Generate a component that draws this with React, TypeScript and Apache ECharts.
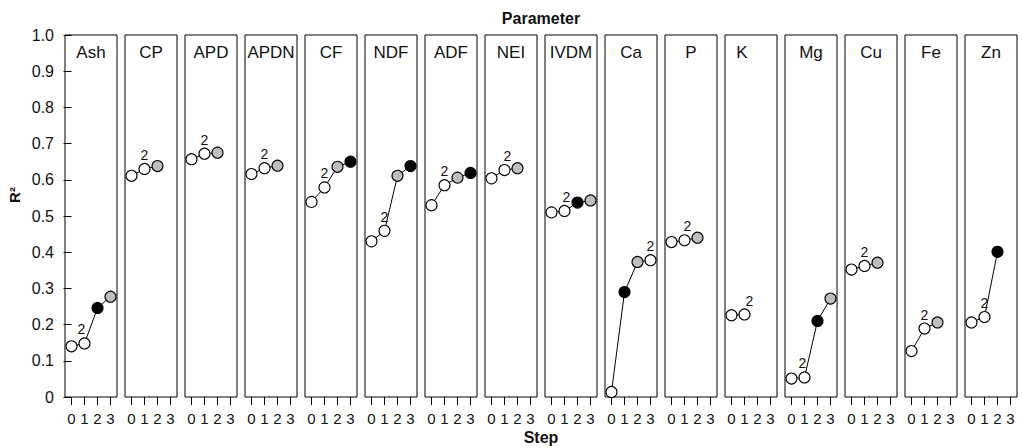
import React, { useEffect, useRef } from "react";
import * as echarts from "echarts";

const parameters = ["Ash", "CP", "APD", "APDN", "CF", "NDF", "ADF", "NEI", "IVDM", "Ca", "P", "K", "Mg", "Cu", "Fe", "Zn"];
const steps = [0, 1, 2, 3];
const yTicks = [0, 0.1, 0.2, 0.3, 0.4, 0.5, 0.6, 0.7, 0.8, 0.9, 1.0];

const r2Ash = [0.140, 0.148, 0.246, 0.277];
const r2CP = [0.611, 0.630, 0.638];
const r2APD = [0.657, 0.672, 0.675];
const r2APDN = [0.616, 0.632, 0.639];
const r2CF = [0.539, 0.579, 0.636, 0.650];
const r2NDF = [0.430, 0.459, 0.611, 0.638];
const r2ADF = [0.530, 0.585, 0.606, 0.619];
const r2NEI = [0.604, 0.627, 0.632];
const r2IVDM = [0.510, 0.514, 0.537, 0.543];
const r2Ca = [0.014, 0.290, 0.373, 0.378];
const r2P = [0.428, 0.433, 0.440];
const r2K = [0.226, 0.228];
const r2Mg = [0.051, 0.054, 0.210, 0.272];
const r2Cu = [0.352, 0.362, 0.371];
const r2Fe = [0.127, 0.189, 0.206];
const r2Zn = [0.206, 0.221, 0.401];

// point fill class: w = white, g = grey, b = black
const fillAsh = ["w", "w", "b", "g"];
const fillCP = ["w", "w", "g"];
const fillAPD = ["w", "w", "g"];
const fillAPDN = ["w", "w", "g"];
const fillCF = ["w", "w", "g", "b"];
const fillNDF = ["w", "w", "g", "b"];
const fillADF = ["w", "w", "g", "b"];
const fillNEI = ["w", "w", "g"];
const fillIVDM = ["w", "w", "b", "g"];
const fillCa = ["w", "b", "g", "w"];
const fillP = ["w", "w", "g"];
const fillK = ["w", "w"];
const fillMg = ["w", "w", "b", "g"];
const fillCu = ["w", "w", "g"];
const fillFe = ["w", "w", "g"];
const fillZn = ["w", "w", "b"];

// index of the step annotated with "2"
const twoIndex = [1, 1, 1, 1, 1, 1, 1, 1, 1, 3, 1, 1, 1, 1, 1, 1];

const values = [r2Ash, r2CP, r2APD, r2APDN, r2CF, r2NDF, r2ADF, r2NEI, r2IVDM, r2Ca, r2P, r2K, r2Mg, r2Cu, r2Fe, r2Zn];
const fills = [fillAsh, fillCP, fillAPD, fillAPDN, fillCF, fillNDF, fillADF, fillNEI, fillIVDM, fillCa, fillP, fillK, fillMg, fillCu, fillFe, fillZn];

const FONT = "'Liberation Sans', Arial, Helvetica, sans-serif";
const fillColor: Record<string, string> = { w: "#ffffff", g: "#bebebe", b: "#000000" };
const twoOffset: Record<string, number[]> = { Ash: [-3, 0], Mg: [-2, 0], K: [5, 1], NEI: [3, 0], IVDM: [2, 0], P: [3, 0] };
const labelShift: Record<string, number> = { K: -9 };

const GRID_LEFT = 65;
const GRID_PITCH = 60;
const GRID_W = 52;
const GRID_TOP = 35;
const GRID_H = 362;

export default function App() {
  const ref = useRef<HTMLDivElement>(null);
  useEffect(() => {
    if (!ref.current) return;
    const chart = echarts.init(ref.current, undefined, { renderer: "svg" });

    const grids: any[] = [];
    const xAxes: any[] = [];
    const yAxes: any[] = [];
    const series: any[] = [];
    const graphics: any[] = [];

    parameters.forEach((name, i) => {
      const left = GRID_LEFT + GRID_PITCH * i;
      grids.push({
        left,
        top: GRID_TOP,
        width: GRID_W,
        height: GRID_H,
        show: true,
        borderColor: "#000",
        borderWidth: 1,
        backgroundColor: "#fff",
        containLabel: false,
      });
      xAxes.push({
        type: "value",
        gridIndex: i,
        min: -0.5,
        max: 3.5,
        axisLine: { show: false },
        splitLine: { show: false },
        axisTick: { show: true, length: 8, customValues: steps, lineStyle: { color: "#000", width: 1 } },
        axisLabel: { show: true, customValues: steps, fontSize: 15, color: "#111", margin: 14, fontFamily: FONT },
      });
      yAxes.push({
        type: "value",
        gridIndex: i,
        min: 0,
        max: 1,
        interval: 0.1,
        axisLine: { show: false },
        splitLine: { show: false },
        axisTick: { show: i === 0, length: 8, lineStyle: { color: "#000", width: 1 } },
        axisLabel: {
          show: i === 0,
          fontSize: 16,
          color: "#111",
          margin: 11,
          fontFamily: FONT,
          formatter: (v: number) => {
            const t = yTicks.find((y) => Math.abs(y - v) < 1e-6);
            if (t === undefined) return "";
            return t === 0 ? "0" : t.toFixed(1);
          },
        },
      });
      const vals = values[i];
      const f = fills[i];
      const off = twoOffset[name] || [0, 0];
      series.push({
        type: "line",
        xAxisIndex: i,
        yAxisIndex: i,
        symbol: "circle",
        symbolSize: 11,
        lineStyle: { color: "#000", width: 1 },
        z: 3,
        data: vals.map((v, k) => ({
          value: [steps[k], v],
          itemStyle: { color: fillColor[f[k]], borderColor: "#000", borderWidth: 1.1 },
          label: {
            show: k === twoIndex[i],
            formatter: "2",
            position: "top",
            distance: 1,
            offset: off,
            fontSize: 14,
            color: "#111",
            fontFamily: FONT,
          },
        })),
      });
      graphics.push({
        type: "text",
        x: left + GRID_W / 2 + (labelShift[name] || 0),
        y: 52,
        style: { text: name, fill: "#111", font: `17px ${FONT}`, align: "center", verticalAlign: "middle" },
        z: 10,
      });
    });

    const centerX = GRID_LEFT + (GRID_PITCH * (parameters.length - 1) + GRID_W) / 2;
    graphics.push({
      type: "text",
      x: centerX,
      y: 18,
      style: { text: "Parameter", font: `bold 16px ${FONT}`, fill: "#111", align: "center", verticalAlign: "middle" },
    });
    graphics.push({
      type: "text",
      x: centerX,
      y: 437,
      style: { text: "Step", font: `bold 16px ${FONT}`, fill: "#111", align: "center", verticalAlign: "middle" },
    });
    graphics.push({
      type: "text",
      x: 14,
      y: 195,
      rotation: Math.PI / 2,
      style: { text: "R²", font: `bold 15px ${FONT}`, fill: "#111", align: "center", verticalAlign: "middle" },
    });

    chart.setOption({
      animation: false,
      backgroundColor: "#fff",
      grid: grids,
      xAxis: xAxes,
      yAxis: yAxes,
      series,
      graphic: graphics,
    });
    return () => chart.dispose();
  }, []);
  return <div ref={ref} style={{ position: "fixed", left: 0, top: 0, width: 1023, height: 448 }} />;
}
